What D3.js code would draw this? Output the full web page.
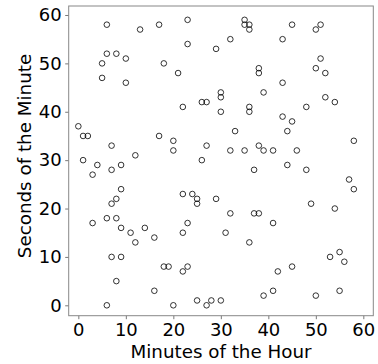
<!DOCTYPE html>
<html>
<head>
<meta charset="utf-8">
<script src="https://cdn.jsdelivr.net/npm/d3@7"></script>
<style>
  body { margin: 0; background: #fff; }
  text { font-family: "DejaVu Sans", sans-serif; }
</style>
</head>
<body>
<div id="chart"></div>
<script>
// minutes (x) and seconds (y) of each event
var minutes = [6,13,17,23,23,29,6,8,10,5,18,21,5,10,30,30,26,27,22,30,0,1,2,17,20,7,27,20,12,1,26,4,9,7,3,9,22,24,25,25,29,8,7,6,8,3,23,9,14,11,22,16,12,7,9,18,19,23,22,8,16,6,20,25,27,28,30,
  35,35,36,36,45,51,50,32,43,51,50,52,38,38,43,39,52,54,48,36,36,43,45,33,44,58,32,35,38,39,41,46,44,37,48,57,58,49,32,37,38,54,41,31,36,55,53,56,45,42,41,39,50,55];
var seconds = [58,57,58,59,54,53,52,52,51,50,50,48,47,46,44,43,42,42,41,40,37,35,35,35,34,33,33,32,31,30,30,29,29,28,27,24,23,23,22,21,22,22,21,18,18,17,17,16,16,15,15,14,13,10,10,8,8,8,7,5,3,0,0,1,0,1,1,
  59,58,58,57,58,58,57,55,55,51,49,48,49,48,46,44,43,42,41,41,40,39,38,36,36,34,32,32,33,32,32,32,29,28,28,26,24,21,19,19,19,20,17,15,13,11,10,9,8,7,3,2,2,3];
var xTicks = [0,10,20,30,40,50,60];
var yTicks = [0,10,20,30,40,50,60];

var width = 378, height = 364;
var plotL = 68.7, plotR = 373.3, plotT = 6, plotB = 315.7;

var svg = d3.select('#chart').append('svg')
    .attr('width', width)
    .attr('height', height);

var x = d3.scaleLinear().domain([-2.03, 62.1]).range([plotL, plotR]);
var y = d3.scaleLinear().domain([-2.15, 61.86]).range([plotB, plotT]);

var xAxis = svg.append('g')
    .attr('transform', 'translate(0,' + plotB + ')')
    .call(d3.axisBottom(x).tickValues(xTicks).tickSize(3.5).tickPadding(3.7));
var yAxis = svg.append('g')
    .attr('transform', 'translate(' + plotL + ',0)')
    .call(d3.axisLeft(y).tickValues(yTicks).tickSize(3.5).tickPadding(3.5));

[xAxis, yAxis].forEach(function(a) {
    a.select('.domain').remove();
    a.selectAll('line').attr('stroke', '#555').attr('stroke-width', 0.8);
    a.selectAll('text').attr('font-size', 18).attr('fill', '#000')
        .style('font-family', '"DejaVu Sans", sans-serif');
});

// frame
svg.append('rect')
    .attr('x', plotL).attr('y', plotT)
    .attr('width', plotR - plotL).attr('height', plotB - plotT)
    .attr('fill', 'none').attr('stroke', '#888').attr('stroke-width', 1);

svg.append('g').selectAll('circle')
    .data(minutes.map(function(m, i) { return {m: m, s: seconds[i]}; }))
    .enter()
    .append('circle')
    .attr('cx', function(d) { return x(d.m); })
    .attr('cy', function(d) { return y(d.s); })
    .attr('r', 2.8)
    .attr('fill', 'none')
    .attr('stroke', '#000')
    .attr('stroke-width', 0.8);

svg.append('text')
    .attr('x', (plotL + plotR) / 2)
    .attr('y', 358.3)
    .attr('text-anchor', 'middle')
    .attr('font-size', 18.3)
    .text('Minutes of the Hour');

svg.append('text')
    .attr('transform', 'translate(31,156) rotate(-90)')
    .attr('text-anchor', 'middle')
    .attr('font-size', 18.3)
    .text('Seconds of the Minute');
</script>
</body>
</html>
